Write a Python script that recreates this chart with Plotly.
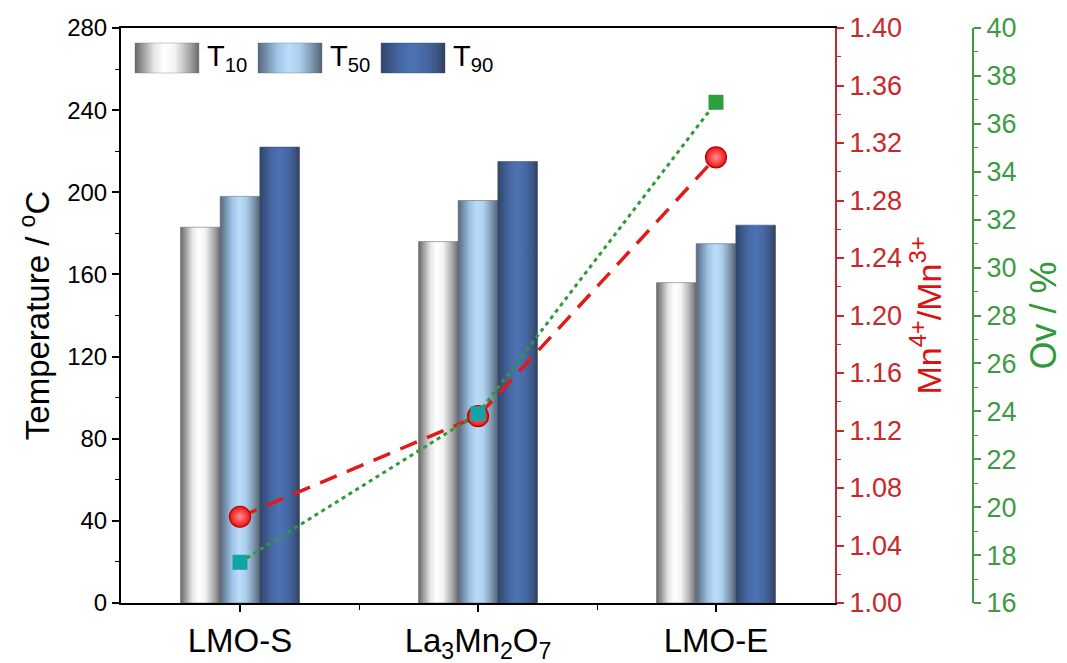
import plotly.graph_objects as go

# ---------------- data ----------------
categories = ["LMO-S", "La<sub>3</sub>Mn<sub>2</sub>O<sub>7</sub>", "LMO-E"]
series_names = ["T<sub>10</sub>", "T<sub>50</sub>", "T<sub>90</sub>"]
t10 = [183, 176, 156]
t50 = [198, 196, 175]
t90 = [222, 215, 184]
mn_ratio = [1.06, 1.13, 1.31]
ov_percent = [17.7, 23.9, 36.9]
temp_ticks = [0, 40, 80, 120, 160, 200, 240, 280]
ratio_ticks = [1.00, 1.04, 1.08, 1.12, 1.16, 1.20, 1.24, 1.28, 1.32, 1.36, 1.40]
ov_ticks = [16, 18, 20, 22, 24, 26, 28, 30, 32, 34, 36, 38, 40]
square_colors = ["#15a3a8", "#15a3a8", "#2f9e3c"]

# ---------------- styles ----------------
W, H = 1067, 663
ML, MR, MT, MB = 121, 60, 28, 60
PLOT_RIGHT = 835
GREEN_AXIS_X = 973
paper_w = W - ML - MR
x_dom_end = (PLOT_RIGHT - ML) / paper_w
green_pos = (GREEN_AXIS_X - ML) / paper_w

gradients = [
    [[0, "#666666"], [0.3, "#e6e6e6"], [0.45, "#ffffff"], [0.62, "#f4f4f4"], [0.85, "#a8a8a8"], [1, "#6c6c6c"]],
    [[0, "#56687c"], [0.3, "#9fc4e8"], [0.48, "#bddcf8"], [0.65, "#aacfee"], [0.85, "#7d95ad"], [1, "#556270"]],
    [[0, "#30456a"], [0.3, "#4668a4"], [0.5, "#4b73b3"], [0.7, "#4668a4"], [0.88, "#3c5684"], [1, "#313f5a"]],
]
edge_colors = ["rgba(110,110,110,0.7)", "rgba(90,100,115,0.7)", "rgba(60,75,105,0.7)"]
RED = "#e01b1b"
RED_AX = "#c8282a"
GREEN = "#2f9a3a"
GREEN_AX = "#3f9a46"
FONT = "Arial, Liberation Sans, sans-serif"

X_MIN, X_MAX = -0.5, 2.5
Y_MIN, Y_MAX = 0, 280
bar_w = 1 / 6

fig = go.Figure()

series = [t10, t50, t90]
for j, vals in enumerate(series):
    offset = (j - 1) * bar_w
    for i, v in enumerate(vals):
        x0 = i + offset - bar_w / 2
        x1 = i + offset + bar_w / 2
        fig.add_trace(go.Scatter(
            x=[x0, x1, x1, x0, x0], y=[0, 0, v, v, 0],
            mode="lines", fill="toself",
            fillgradient=dict(type="horizontal", colorscale=gradients[j]),
            line=dict(color=edge_colors[j], width=0.8),
            showlegend=False, hoverinfo="skip",
        ))

# custom legend (gradient swatches) placed in the upper-left of the plot
leg_x0_frac, leg_w_frac, leg_step_frac = 0.0196, 0.0896, 0.1723
leg_y0_frac, leg_y1_frac = 0.9217, 0.974
for j, name in enumerate(series_names):
    fx0 = leg_x0_frac + j * leg_step_frac
    x0 = X_MIN + (X_MAX - X_MIN) * fx0
    x1 = X_MIN + (X_MAX - X_MIN) * (fx0 + leg_w_frac)
    y0 = Y_MIN + (Y_MAX - Y_MIN) * leg_y0_frac
    y1 = Y_MIN + (Y_MAX - Y_MIN) * leg_y1_frac
    fig.add_trace(go.Scatter(
        x=[x0, x1, x1, x0, x0], y=[y0, y0, y1, y1, y0],
        mode="lines", fill="toself",
        fillgradient=dict(type="horizontal", colorscale=gradients[j]),
        line=dict(color=edge_colors[j], width=0.5),
        showlegend=False, hoverinfo="skip",
    ))
    fig.add_annotation(
        x=x1 + (X_MAX - X_MIN) * 0.009, y=(y0 + y1) / 2, xref="x", yref="y",
        text=name, showarrow=False, xanchor="left", yanchor="middle",
        font=dict(family=FONT, size=29, color="black"),
    )

x_idx = list(range(len(categories)))

fig.add_trace(go.Scatter(
    x=x_idx, y=mn_ratio, yaxis="y2", mode="lines+markers",
    line=dict(color=RED, width=3.5, dash="18px,11px"),
    marker=dict(size=21, color="#ee1010", line=dict(color="#b80000", width=1.2),
                gradient=dict(type="radial", color="#ff9090")),
    showlegend=False, name="Mn4+/Mn3+",
))
fig.add_trace(go.Scatter(
    x=x_idx, y=ov_percent, yaxis="y3", mode="lines+markers",
    line=dict(color=GREEN, width=3, dash="4px,4px"),
    marker=dict(size=15, symbol="square", color=square_colors, line=dict(width=0)),
    showlegend=False, name="Ov",
))

fig.update_layout(
    width=W, height=H,
    margin=dict(l=ML, r=MR, t=MT, b=MB, autoexpand=False),
    paper_bgcolor="white", plot_bgcolor="white",
    font=dict(family=FONT, color="black"),
    xaxis=dict(
        domain=[0, x_dom_end], range=[X_MIN, X_MAX], automargin=False,
        tickmode="array", tickvals=x_idx, ticktext=categories,
        ticks="outside", ticklen=7, tickwidth=1.5, tickcolor="black",
        showline=True, linecolor="black", linewidth=2, mirror=True,
        showgrid=False, zeroline=False,
        minor=dict(tickmode="array", tickvals=[0.5, 1.5], ticks="outside", ticklen=5, tickwidth=1.2, tickcolor="black"),
        tickfont=dict(size=33, family=FONT, color="black"),
    ),
    yaxis=dict(
        range=[Y_MIN, Y_MAX], tickmode="array", tickvals=temp_ticks, automargin=False,
        ticks="outside", ticklen=7, tickwidth=1.5, tickcolor="black",
        showline=True, linecolor="black", linewidth=2,
        showgrid=False, zeroline=False,
        minor=dict(dtick=20, ticks="outside", ticklen=4, tickwidth=1.2, tickcolor="black"),
        tickfont=dict(size=24, family=FONT, color="black"),
        title=dict(text="Temperature / <sup>o</sup>C", font=dict(size=33, family=FONT, color="black"), standoff=8),
    ),
    yaxis2=dict(
        overlaying="y", side="right", anchor="x", automargin=False,
        range=[1.0, 1.4], tickmode="array", tickvals=ratio_ticks,
        ticktext=[f"{v:.2f}" for v in ratio_ticks],
        ticks="outside", ticklen=7, tickwidth=1.5, tickcolor=RED_AX,
        showline=True, linecolor=RED_AX, linewidth=2,
        showgrid=False, zeroline=False,
        minor=dict(dtick=0.02, ticks="outside", ticklen=4, tickwidth=1.2, tickcolor=RED_AX),
        tickfont=dict(size=27, family=FONT, color=RED_AX),
        title=dict(text="Mn<sup>4+</sup>/Mn<sup>3+</sup>", font=dict(size=34, family=FONT, color="#e01010"), standoff=16),
    ),
    yaxis3=dict(
        overlaying="y", side="right", anchor="free", position=green_pos, automargin=False,
        range=[16, 40], tickmode="array", tickvals=ov_ticks,
        ticks="outside", ticklen=7, tickwidth=1.5, tickcolor=GREEN_AX,
        showline=True, linecolor=GREEN_AX, linewidth=2,
        showgrid=False, zeroline=False,
        minor=dict(dtick=1, ticks="outside", ticklen=4, tickwidth=1.2, tickcolor=GREEN_AX),
        tickfont=dict(size=27, family=FONT, color=GREEN_AX),
        title=dict(text="Ov / %", font=dict(size=36, family=FONT, color=GREEN), standoff=14),
    ),
)

fig.write_html("out.html")
